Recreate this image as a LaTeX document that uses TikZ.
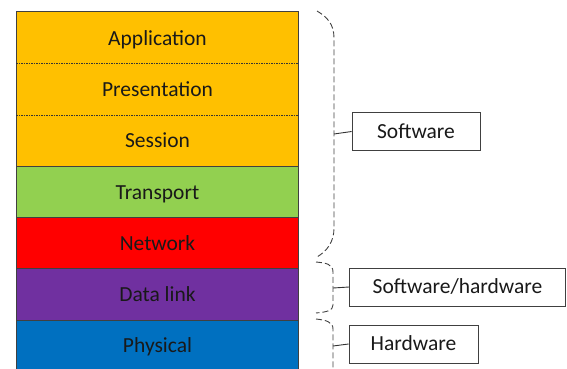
\documentclass[tikz,border=0pt]{standalone}
\usepackage{fontspec}
\setmainfont{Carlito}
\begin{document}
\begin{tikzpicture}[x=1pt,y=-1pt,
  layer/.style={draw=none,minimum width=282pt,minimum height=51.3pt,inner sep=0pt,text height=18pt,text depth=3pt,font=\fontsize{21.5}{24}\selectfont,text=black!90},
  label/.style={draw=black!75,line width=0.8pt,fill=white,minimum height=38pt,inner sep=0pt,text height=16.5pt,text depth=3.5pt,font=\fontsize{21.5}{24}\selectfont,text=black!90},
  bracel/.style={draw=black!75,line width=0.9pt,dash pattern=on 6pt off 3pt},
  sep/.style={draw=black!75,line width=0.8pt}]
\useasboundingbox (0,0) rectangle (567,369);
\begin{scope}
\clip (0,0) rectangle (567,369);
\node[layer,fill={rgb,255:red,255;green,192;blue,0}] (app) at (157.5,37.65) {Application};
\node[layer,fill={rgb,255:red,255;green,192;blue,0}] (pre) at (157.5,88.95) {Presentation};
\node[layer,fill={rgb,255:red,255;green,192;blue,0}] (ses) at (157.5,140.25) {Session};
\node[layer,fill={rgb,255:red,146;green,208;blue,80}] (tra) at (157.5,191.55) {Transport};
\node[layer,fill={rgb,255:red,255;green,0;blue,0}] (net) at (157.5,242.85) {Network};
\node[layer,fill={rgb,255:red,112;green,48;blue,160}] (dat) at (157.5,294.15) {Data link};
\node[layer,fill={rgb,255:red,0;green,112;blue,192}] (phy) at (157.5,345.45) {Physical};
\draw[sep] (app.south west) -- (app.north west) -- (app.north east) -- (app.south east);
\foreach \n in {pre,ses,tra,net,dat,phy} {\draw[sep] (\n.north west) -- (\n.south west) (\n.north east) -- (\n.south east);}
\draw[sep] (phy.south west) -- (phy.south east);
\draw[black!80,line width=0.6pt,dash pattern=on 1.5pt off 1pt] (app.south west) -- (app.south east);
\draw[black!80,line width=0.6pt,dash pattern=on 1.5pt off 1pt] (pre.south west) -- (pre.south east);
\draw[sep] (ses.south west) -- (ses.south east);
\draw[sep] (tra.south west) -- (tra.south east);
\draw[sep] (net.south west) -- (net.south east);
\draw[sep] (dat.south west) -- (dat.south east);

\node[label,minimum width=128pt] (sw) at (416,131.5) {Software};
\node[label,minimum width=216pt] (sh) at (457.5,287) {Software/hardware};
\node[label,minimum width=129pt] (hw) at (413.5,344) {Hardware};

\coordinate (b1) at (334,134);
\coordinate (b2) at (333,288);
\coordinate (b3) at (333,346);
\draw[bracel] (317,11) .. controls (327,17) and (334,24) .. (334,38) -- (334,228) .. controls (334,242) and (327,251) .. (317,257);
\draw[bracel] (316,262) .. controls (326,263) and (333,264) .. (333,272) -- (333,305) .. controls (333,311) and (326,312) .. (316,313);
\draw[bracel] (316,319) .. controls (326,320) and (333,322) .. (333,329) -- (333,372);
\draw[black!80,line width=0.9pt] (b1) -- (sw.west);
\draw[black!80,line width=0.9pt] (b2) -- (sh.west);
\draw[black!80,line width=0.9pt] (b3) -- (hw.west);
\end{scope}
\end{tikzpicture}
\end{document}
